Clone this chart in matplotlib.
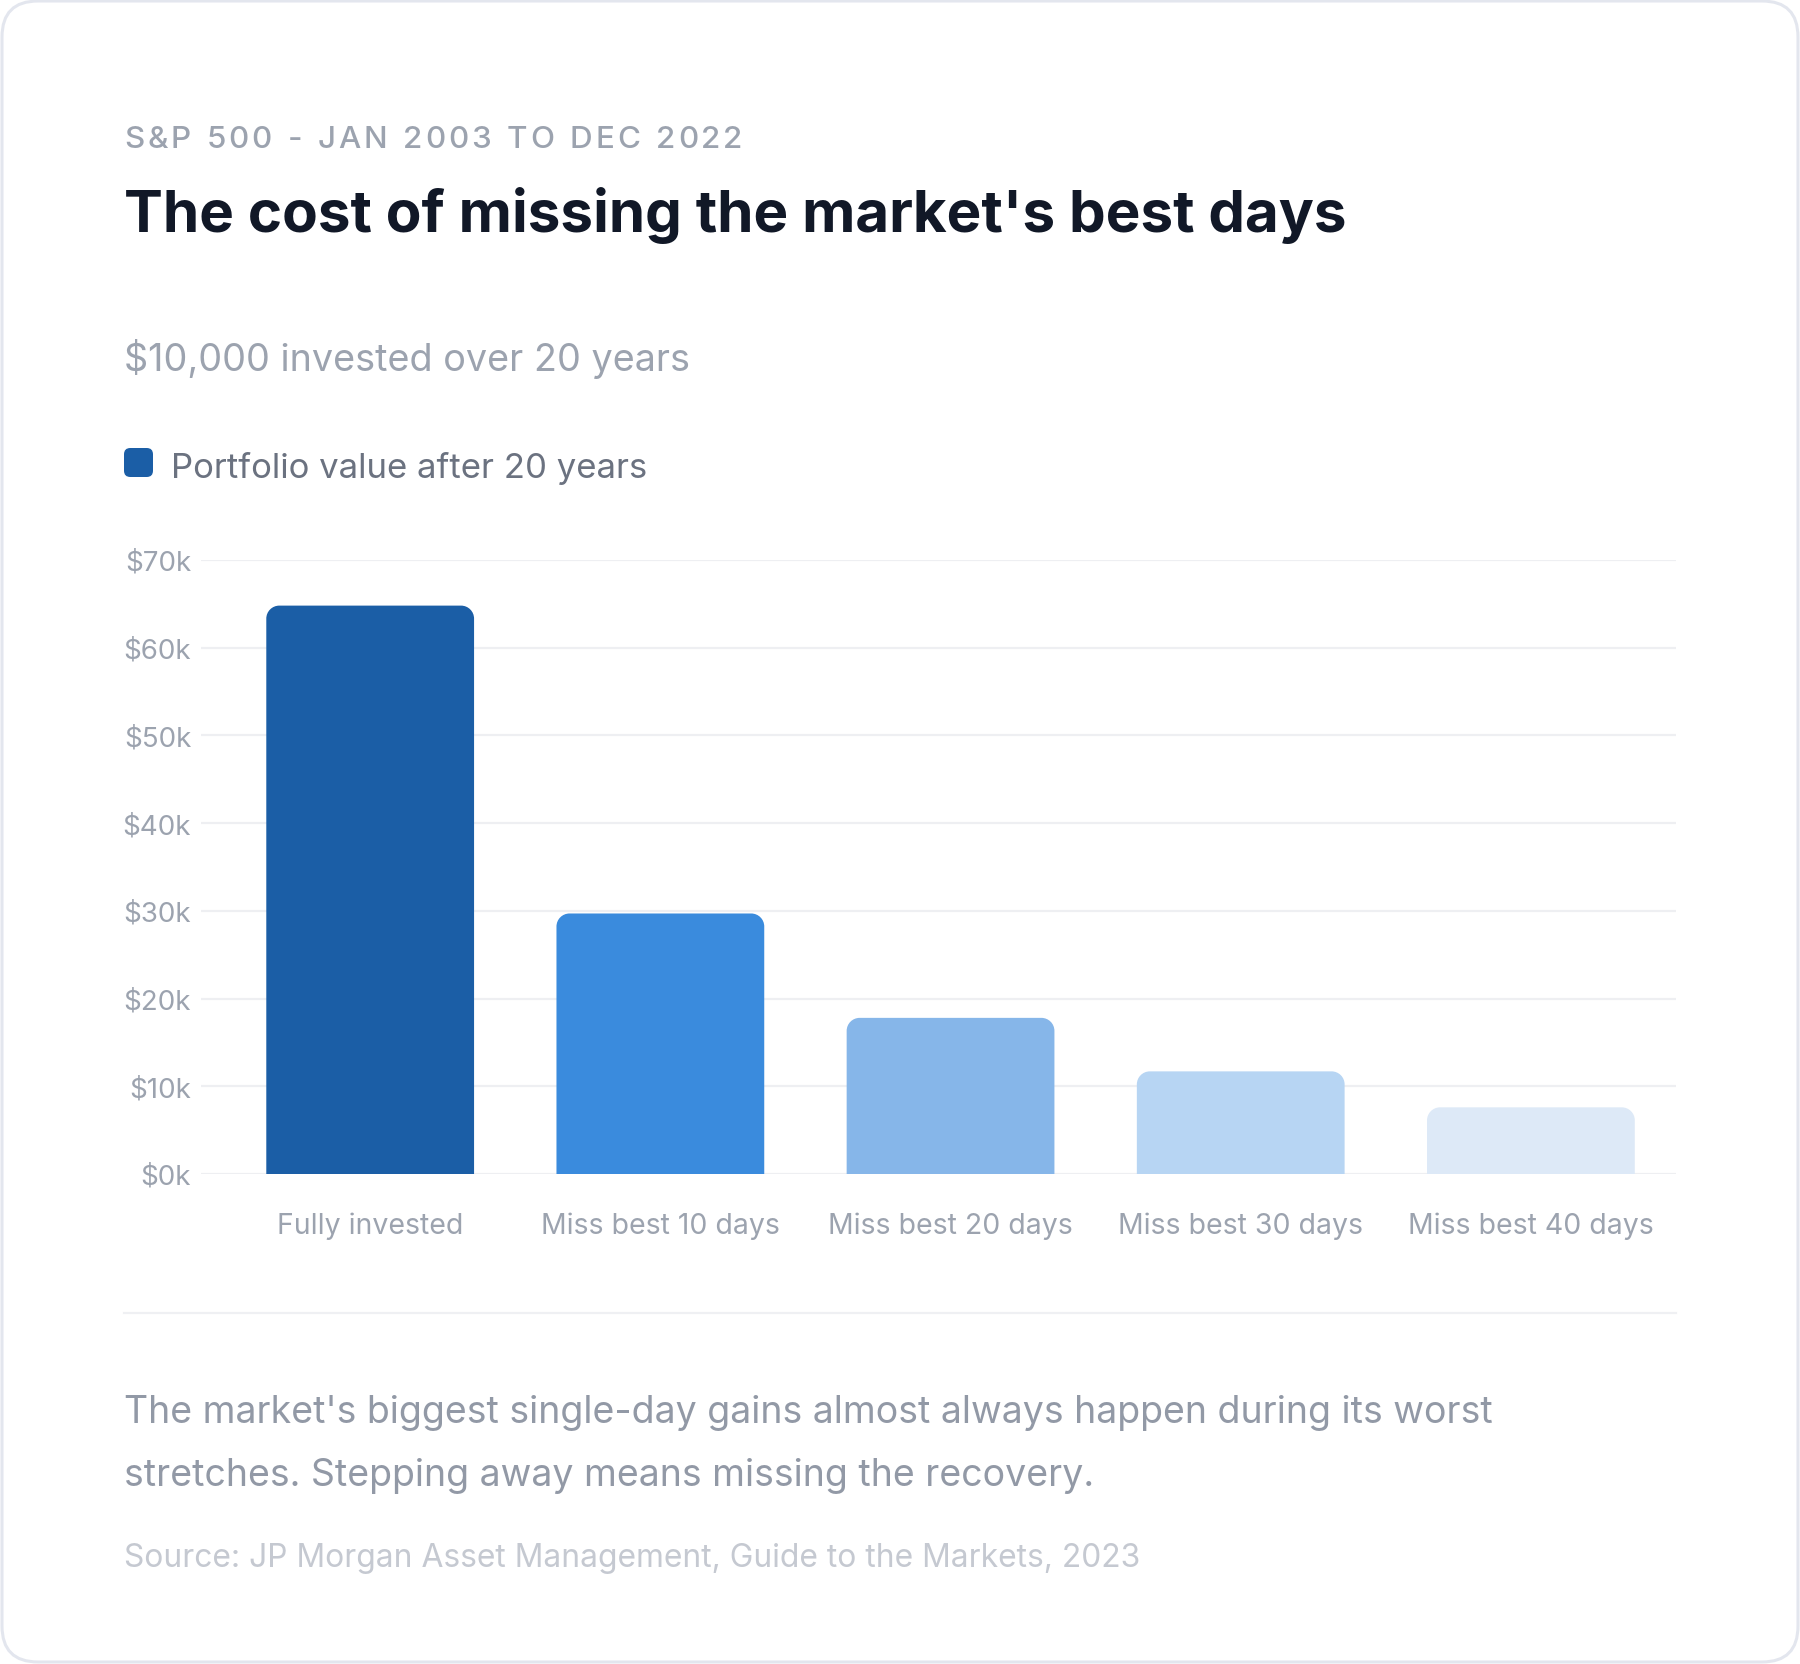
import matplotlib
matplotlib.use("Agg")
import matplotlib.pyplot as plt
import numpy as np
from matplotlib.path import Path
from matplotlib.patches import PathPatch, FancyBboxPatch

plt.rcParams["font.family"] = ["Inter", "DejaVu Sans"]

# data
categories = ["Fully invested", "Miss best 10 days", "Miss best 20 days",
              "Miss best 30 days", "Miss best 40 days"]
values = [64800, 29700, 17800, 11700, 7600]
bar_colors = ["#1b5ea6", "#3a8bdd", "#86b6e9", "#b7d5f3", "#dde9f7"]
y_ticks = [0, 10000, 20000, 30000, 40000, 50000, 60000, 70000]
y_tick_labels = ["$0k", "$10k", "$20k", "$30k", "$40k", "$50k", "$60k", "$70k"]

W, H = 1800, 1665
fig = plt.figure(figsize=(W / 100, H / 100), dpi=100)
fig.patch.set_facecolor("white")


def fx(px):
    return px / W


def fy(py):
    return 1 - py / H


# card border
card = FancyBboxPatch((fx(2), fy(H - 2)), fx(W - 4), 1 - 2 * (2 / H),
                      boxstyle="round,pad=0,rounding_size=0.02",
                      mutation_aspect=W / H,
                      transform=fig.transFigure, facecolor="none",
                      edgecolor="#e3e6ee", linewidth=2.2, zorder=-1)
fig.patches.append(card)

# eyebrow with letter spacing
eyebrow = "S&P 500 - JAN 2003 TO DEC 2022"
renderer = fig.canvas.get_renderer()
xpos = 124
for ch in eyebrow:
    t = fig.text(fx(xpos), fy(148), ch, fontsize=22.6, color="#9ca3af",
                 fontweight="medium", va="baseline", ha="left")
    w = t.get_window_extent(renderer).width if ch != " " else 9.8
    xpos += w + 2.9

fig.text(fx(124), fy(232), "The cost of missing the market's best days",
         fontsize=42, fontweight="bold", color="#111827", va="baseline")
fig.text(fx(124), fy(371), "$10,000 invested over 20 years",
         fontsize=27.2, color="#9ca3af", va="baseline")

# legend
leg = FancyBboxPatch((fx(124), fy(478)), fx(29), 29 / H,
                     boxstyle="round,pad=0,rounding_size=0.0035",
                     mutation_aspect=W / H,
                     transform=fig.transFigure, facecolor=bar_colors[0],
                     edgecolor="none")
fig.patches.append(leg)
fig.text(fx(171), fy(478), "Portfolio value after 20 years",
         fontsize=25, color="#6b7280", va="baseline")

# chart
ax = fig.add_axes([fx(201), fy(1175), fx(1676 - 201), (1175 - 561) / H])
ax.patch.set_alpha(0)
x = np.arange(len(categories))
bars = ax.bar(x, values, width=0.716, color=bar_colors, zorder=3)
ax.set_xlim(-0.583, 4.5)
ax.set_ylim(0, 70000)
ax.set_yticks(y_ticks)
ax.set_yticklabels(y_tick_labels)
ax.set_xticks(x)
ax.set_xticklabels(categories)
ax.tick_params(axis="y", length=0, pad=7, labelsize=20, labelcolor="#9ca3af")
ax.tick_params(axis="x", length=0, pad=27, labelsize=20.5, labelcolor="#9ca3af")
for s in ax.spines.values():
    s.set_visible(False)
ax.grid(axis="y", color="#eeeff2", linewidth=1.6, zorder=0)
ax.set_axisbelow(True)

# rounded tops for bars
fig.canvas.draw()
bb = ax.get_window_extent()
r_px = 13
rx = r_px * (ax.get_xlim()[1] - ax.get_xlim()[0]) / bb.width
ry = r_px * (ax.get_ylim()[1] - ax.get_ylim()[0]) / bb.height
k = 0.5523
for b in bars:
    x0, y0 = b.get_x(), b.get_y()
    w, h = b.get_width(), b.get_height()
    x1, y1 = x0 + w, y0 + h
    verts = [(x0, y0), (x0, y1 - ry),
             (x0, y1 - ry + k * ry), (x0 + rx - k * rx, y1), (x0 + rx, y1),
             (x1 - rx, y1),
             (x1 - rx + k * rx, y1), (x1, y1 - ry + k * ry), (x1, y1 - ry),
             (x1, y0), (x0, y0)]
    codes = [Path.MOVETO, Path.LINETO,
             Path.CURVE4, Path.CURVE4, Path.CURVE4,
             Path.LINETO,
             Path.CURVE4, Path.CURVE4, Path.CURVE4,
             Path.LINETO, Path.CLOSEPOLY]
    ax.add_patch(PathPatch(Path(verts, codes), facecolor=b.get_facecolor(),
                           edgecolor="none", zorder=3))
    b.set_visible(False)

# divider
fig.add_artist(plt.Line2D([fx(124), fx(1676)], [fy(1314), fy(1314)],
                          color="#eff0f3", linewidth=1.6))

fig.text(fx(124), fy(1423),
         "The market's biggest single-day gains almost always happen during its worst",
         fontsize=27, color="#9299a6", va="baseline")
fig.text(fx(124), fy(1486),
         "stretches. Stepping away means missing the recovery.",
         fontsize=27, color="#9299a6", va="baseline")
fig.text(fx(124), fy(1567),
         "Source: JP Morgan Asset Management, Guide to the Markets, 2023",
         fontsize=22.9, color="#c5c9d1", va="baseline")

fig.savefig("out.png", dpi=100)
